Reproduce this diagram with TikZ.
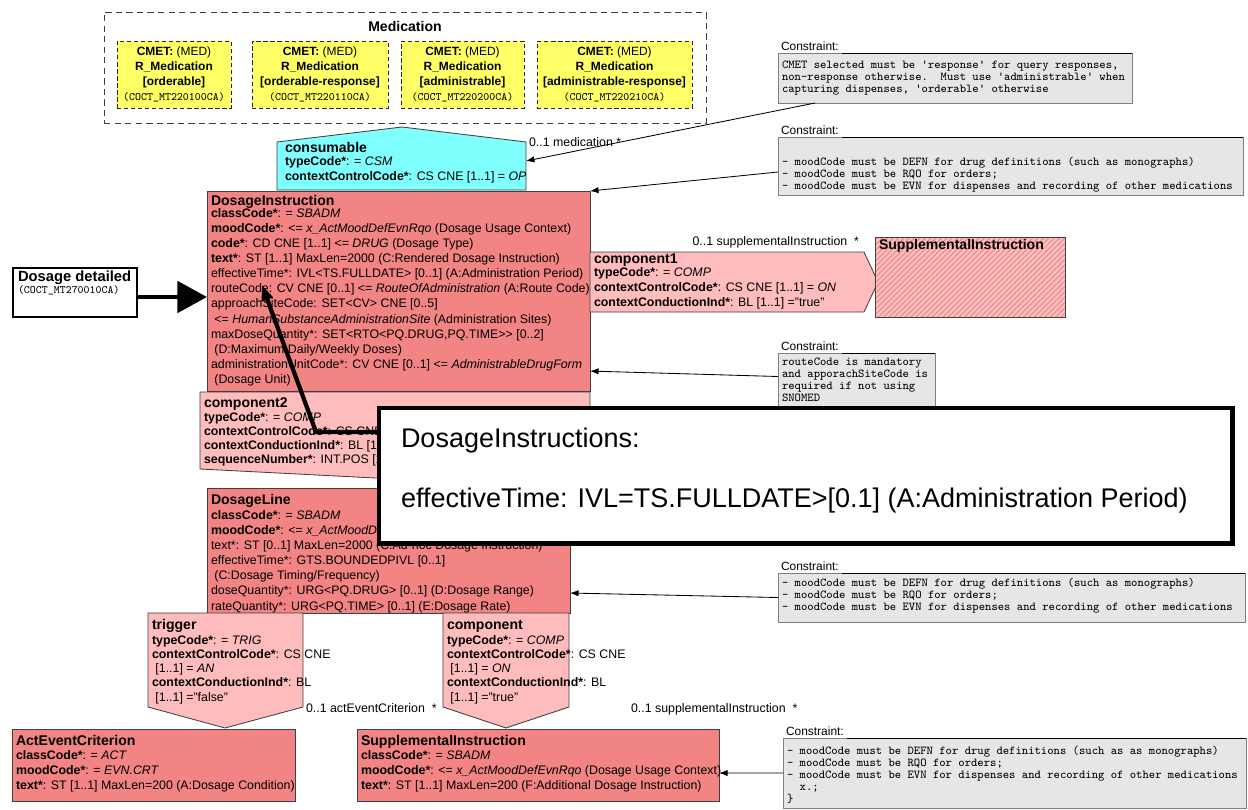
\documentclass[tikz,border=0pt]{standalone}
\usepackage{fontspec}
\setmainfont{Liberation Sans}
\usetikzlibrary{arrows.meta,patterns.meta,calc}

\definecolor{medyellow}{HTML}{FFFF66}
\definecolor{conscyan}{HTML}{80FFFF}
\definecolor{actred}{HTML}{F28484}
\definecolor{actpink}{HTML}{FFBCBC}
\definecolor{congray}{HTML}{E6E6E6}
\definecolor{hatchred}{HTML}{E07A7A}

\newcommand{\umlbody}{\fontsize{8.8}{10.67}\selectfont}
\newcommand{\umlbodytight}{\fontsize{8.8}{9.96}\selectfont}
\newcommand{\umltitle}{\fontsize{10}{12}\selectfont\bfseries}
\newcommand{\cmetfont}{\fontsize{8.5}{10.67}\selectfont}
\newcommand{\cmetcode}{\ttfamily\fontsize{8}{10}\selectfont}
\newcommand{\conmono}{\ttfamily\fontsize{8.6}{8.54}\selectfont}
\newcommand{\conlabel}{\fontsize{8.5}{10}\selectfont}
\newcommand{\callfont}{\fontsize{19.2}{23}\selectfont}

\begin{document}
\begin{tikzpicture}[x=0.025cm,y=-0.025cm,line join=miter,
    every node/.style={inner sep=0pt,outer sep=0pt},
    classbox/.style={draw=black!75,fill=actred,line width=0.6pt},
    assoc/.style={draw=black!75,fill=actpink,line width=0.6pt},
    cmetbox/.style={draw=black!85,fill=medyellow,dash pattern=on 3pt off 2pt,line width=0.6pt},
    conbox/.style={draw=black!50,fill=congray,line width=0.6pt},
    ctitle/.style={anchor=base west,font=\umltitle},
    cbody/.style={anchor=north west,align=left,font=\umlbody},
    ctight/.style={anchor=north west,align=left,font=\umlbodytight},
    context/.style={anchor=north west,align=left,font=\conmono},
    conlbl/.style={anchor=base west,font=\conlabel},
    rolelbl/.style={font=\umlbody},
    link/.style={line width=0.6pt,-{Latex[length=6pt,width=4.5pt]}}]
        \fill[white] (0,0) rectangle (1248,809);
        \useasboundingbox (0,0) rectangle (1248,809);

        % Medication CMET choice
        \node[draw=black!75,dash pattern=on 4.5pt off 3pt,line width=0.6pt,minimum width=15.05cm,minimum height=2.775cm,anchor=north west] (medgroup) at (104,12) {};
        \node[font=\umltitle,anchor=base] (medtitle) at (405,31) {Medication};
        \node[cmetbox,minimum width=2.85cm,minimum height=1.675cm] (cmet1) at (174,74.5) {};
        \node[cmetbox,minimum width=3.4cm,minimum height=1.675cm] (cmet2) at (320,74.5) {};
        \node[cmetbox,minimum width=3.075cm,minimum height=1.675cm] (cmet3) at (462.5,74.5) {};
        \node[cmetbox,minimum width=3.875cm,minimum height=1.675cm] (cmet4) at (614.5,74.5) {};
        \node[align=center,font=\cmetfont] (cmet1-txt) at (cmet1) {\textbf{CMET:} (MED)\\\textbf{R\_Medication}\\\textbf{[orderable]}\\{\cmetcode (COCT\_MT220100CA)}};
        \node[align=center,font=\cmetfont] (cmet2-txt) at (cmet2) {\textbf{CMET:} (MED)\\\textbf{R\_Medication}\\\textbf{[orderable-response]}\\{\cmetcode (COCT\_MT220110CA)}};
        \node[align=center,font=\cmetfont] (cmet3-txt) at (cmet3) {\textbf{CMET:} (MED)\\\textbf{R\_Medication}\\\textbf{[administrable]}\\{\cmetcode (COCT\_MT220200CA)}};
        \node[align=center,font=\cmetfont] (cmet4-txt) at (cmet4) {\textbf{CMET:} (MED)\\\textbf{R\_Medication}\\\textbf{[administrable-response]}\\{\cmetcode (COCT\_MT220210CA)}};

        % consumable participation
        \coordinate (cons-sw) at (277,190);
        \coordinate (cons-nw) at (277,142);
        \coordinate (cons-top) at (402,127);
        \coordinate (cons-ne) at (526,142);
        \coordinate (cons-se) at (526,190);
        \coordinate (cons-in) at (526,161);
        \draw[fill=conscyan,draw=black!75,line width=0.6pt] (cons-sw) -- (cons-nw) -- (cons-top) -- (cons-ne) -- (cons-se) -- cycle;
        \node[ctitle] (cons-title) at (285,152) {consumable};
        \node[cbody] (cons-body) at (285,157) {\textbf{typeCode*}: = \textit{CSM}\\\textbf{contextControlCode*}: CS CNE [1..1] = \textit{OP}};
        \node[rolelbl,anchor=base west] (cons-role) at (529,146) {0..1 medication *};

        % DosageInstruction
        \node[classbox,minimum width=9.575cm,minimum height=5cm,anchor=north west] (dosinstr) at (207,191) {};
        \node[ctitle] (dosinstr-title) at (211,205) {DosageInstruction};
        \node[cbody] (dosinstr-body) at (211,209) {\textbf{classCode*}: = \textit{SBADM}\\
            \textbf{moodCode*}: <= \textit{x\_ActMoodDefEvnRqo} (Dosage Usage Context)\\
            \textbf{code*}: CD CNE [1..1] <= \textit{DRUG} (Dosage Type)\\
            \textbf{text*}: ST [1..1] MaxLen=2000 (C:Rendered Dosage Instruction)\\
            effectiveTime*: IVL<TS.FULLDATE> [0..1] (A:Administration Period)\\
            routeCode: CV CNE [0..1] <= \textit{RouteOfAdministration} (A:Route Code)\\
            approachSiteCode: SET<CV> CNE [0..5]\\
            \ <= \textit{HumanSubstanceAdministrationSite} (Administration Sites)\\
            maxDoseQuantity*: SET<RTO<PQ.DRUG,PQ.TIME>{}> [0..2]\\
            \ (D:Maximum Daily/Weekly Doses)\\
            administrationUnitCode*: CV CNE [0..1] <= \textit{AdministrableDrugForm}\\
            \ (Dosage Unit)};

        % component1 -> SupplementalInstruction
        \coordinate (comp1-nw) at (590,252);
        \coordinate (comp1-ne) at (864,252);
        \coordinate (comp1-tip) at (878,282);
        \coordinate (comp1-se) at (864,312);
        \coordinate (comp1-sw) at (590,312);
        \draw[assoc] (comp1-nw) -- (comp1-ne) -- (comp1-tip) -- (comp1-se) -- (comp1-sw) -- cycle;
        \node[ctitle] (comp1-title) at (594,263) {component1};
        \node[cbody] (comp1-body) at (594,268) {\textbf{typeCode*}: = \textit{COMP}\\
            \textbf{contextControlCode*}: CS CNE [1..1] = \textit{ON}\\
            \textbf{contextConductionInd*}: BL [1..1] ="true"};
        \node[rolelbl,anchor=base east] (comp1-role) at (859,245) {0..1 supplementalInstruction \ *};
        \node[draw=black!75,line width=0.6pt,preaction={fill=actpink},pattern={Lines[angle=45,distance=2.7pt,line width=0.5pt]},pattern color=hatchred,minimum width=4.75cm,minimum height=2cm,anchor=north west] (suppl1) at (875,237) {};
        \node[ctitle] (suppl1-title) at (879,249) {SupplementalInstruction};

        % entry point
        \node[draw=black,line width=2pt,fill=white,minimum width=3.1cm,minimum height=1.225cm,anchor=north west] (dosdet) at (13,268) {};
        \node[font=\fontsize{10.5}{12}\selectfont\bfseries,anchor=base west] (dosdet-title) at (18,281) {Dosage detailed};
        \node[font=\cmetcode,anchor=base west] (dosdet-code) at (18,293) {(COCT\_MT270010CA)};
        \coordinate (dosdet-out) at (137,297);
        \coordinate (dosinstr-in) at (207,297);
        \draw[line width=3.5pt,-{Triangle[length=21pt,width=22pt]}] (dosdet-out) -- (dosinstr-in);

        % constraints
        \node[conbox,minimum width=8.85cm,minimum height=1.25cm,anchor=north west] (con1) at (778,53) {};
        \node[conlbl] (con1-lbl) at (781,50) {Constraint:};
        \draw[line width=0.6pt] (con1-lbl.east |- con1.north) ++(3,0) -- (con1.north east);
        \node[context] (con1-txt) at (782,60.5) {CMET selected must be \textquotesingle response\textquotesingle{} for query responses,\\
            non-response otherwise.\ \ Must use \textquotesingle administrable\textquotesingle{} when\\
            capturing dispenses, \textquotesingle orderable\textquotesingle{} otherwise};

        \node[conbox,minimum width=11.625cm,minimum height=1.45cm,anchor=north west] (con2) at (778,137) {};
        \node[conlbl] (con2-lbl) at (781,134) {Constraint:};
        \draw[line width=0.6pt] (con2-lbl.east |- con2.north) ++(3,0) -- (con2.north east);
        \node[context] (con2-txt) at (782,157.5) {- moodCode must be DEFN for drug definitions (such as monographs)\\
            - moodCode must be RQO for orders;\\
            - moodCode must be EVN for dispenses and recording of other medications};

        \node[conbox,minimum width=3.925cm,minimum height=1.525cm,anchor=north west] (con3) at (778,353) {};
        \node[conlbl] (con3-lbl) at (781,350) {Constraint:};
        \draw[line width=0.6pt] (con3-lbl.east |- con3.north) ++(3,0) -- (con3.north east);
        \node[context] (con3-txt) at (782,357.5) {routeCode is mandatory\\and apporachSiteCode is\\required if not using\\SNOMED};

        \node[conbox,minimum width=11.675cm,minimum height=1.225cm,anchor=north west] (con4) at (778,573) {};
        \node[conlbl] (con4-lbl) at (781,570) {Constraint:};
        \draw[line width=0.6pt] (con4-lbl.east |- con4.north) ++(3,0) -- (con4.north east);
        \node[context] (con4-txt) at (782,578.5) {- moodCode must be DEFN for drug definitions (such as monographs)\\
            - moodCode must be RQO for orders;\\
            - moodCode must be EVN for dispenses and recording of other medications};

        \node[conbox,minimum width=11.575cm,minimum height=1.75cm,anchor=north west] (con5) at (783,738) {};
        \node[conlbl] (con5-lbl) at (786,735) {Constraint:};
        \draw[line width=0.6pt] (con5-lbl.east |- con5.north) ++(3,0) -- (con5.north east);
        \node[context] (con5-txt) at (787,746.5) {- moodCode must be DEFN for drug definitions (such as as monographs)\\
            - moodCode must be RQO for orders;\\
            - moodCode must be EVN for dispenses and recording of other medications\\
            \ \ x.;\\
            \}};

        % component2 -> DosageLine (partly hidden by the callout)
        \coordinate (comp2-nw) at (200,392);
        \coordinate (comp2-ne) at (590,392);
        \coordinate (comp2-se) at (590,469);
        \coordinate (comp2-tip) at (395,479);
        \coordinate (comp2-sw) at (200,469);
        \draw[assoc] (comp2-nw) -- (comp2-ne) -- (comp2-se) -- (comp2-tip) -- (comp2-sw) -- cycle;
        \node[ctitle] (comp2-title) at (204,407) {component2};
        \begin{scope}
            \clip (200,392) rectangle (378,480);
            \node[ctight] (comp2-body) at (204,413) {\textbf{typeCode*}: = \textit{COMP}\\
                \textbf{contextControlCode*}: CS CNE\\
                \textbf{contextConductionInd*}: BL [1.\\
                \textbf{sequenceNumber*}: INT.POS [1};
        \end{scope}

        % DosageLine
        \node[classbox,minimum width=9.075cm,minimum height=3.125cm,anchor=north west] (dosline) at (207,488) {};
        \node[ctitle] (dosline-title) at (211,504) {DosageLine};
        \node[cbody] (dosline-body) at (211,511) {\textbf{classCode*}: = \textit{SBADM}\\
            \textbf{moodCode*}: <= \textit{x\_ActMoodDefEvnRqo} (Dosage Usage Context)\\
            text*: ST [0..1] MaxLen=2000 (C:Ad-hoc Dosage Instruction)\\
            effectiveTime*: GTS.BOUNDEDPIVL [0..1]\\
            \ (C:Dosage Timing/Frequency)\\
            doseQuantity*: URG<PQ.DRUG> [0..1] (D:Dosage Range)\\
            rateQuantity*: URG<PQ.TIME> [0..1] (E:Dosage Rate)};

        % trigger -> ActEventCriterion
        \coordinate (trig-nw) at (148,613);
        \coordinate (trig-ne) at (303,613);
        \coordinate (trig-se) at (303,707);
        \coordinate (trig-tip) at (225,728);
        \coordinate (trig-sw) at (148,707);
        \draw[assoc] (trig-nw) -- (trig-ne) -- (trig-se) -- (trig-tip) -- (trig-sw) -- cycle;
        \node[ctitle] (trig-title) at (152,629) {trigger};
        \node[ctight] (trig-body) at (152,636) {\textbf{typeCode*}: = \textit{TRIG}\\
            \textbf{contextControlCode*}: CS CNE\\
            \ [1..1] = \textit{AN}\\
            \textbf{contextConductionInd*}: BL\\
            \ [1..1] ="false"};
        \node[rolelbl,anchor=base west] (trig-role) at (306,712) {0..1 actEventCriterion \ *};

        % component -> SupplementalInstruction
        \coordinate (comp-nw) at (443,613);
        \coordinate (comp-ne) at (569,613);
        \coordinate (comp-se) at (569,707);
        \coordinate (comp-tip) at (506,728);
        \coordinate (comp-sw) at (443,707);
        \draw[assoc] (comp-nw) -- (comp-ne) -- (comp-se) -- (comp-tip) -- (comp-sw) -- cycle;
        \node[ctitle] (comp-title) at (447,629) {component};
        \node[ctight] (comp-body) at (447,636) {\textbf{typeCode*}: = \textit{COMP}\\
            \textbf{contextControlCode*}: CS CNE\\
            \ [1..1] = \textit{ON}\\
            \textbf{contextConductionInd*}: BL\\
            \ [1..1] ="true"};
        \node[rolelbl,anchor=base west] (comp-role) at (631,712) {0..1 supplementalInstruction \ *};

        % ActEventCriterion
        \node[classbox,minimum width=7.075cm,minimum height=1.8cm,anchor=north west] (actevt) at (12,729) {};
        \node[ctitle] (actevt-title) at (16,745) {ActEventCriterion};
        \node[cbody] (actevt-body) at (16,751) {\textbf{classCode*}: = \textit{ACT}\\
            \textbf{moodCode*}: = \textit{EVN.CRT}\\
            \textbf{text*}: ST [1..1] MaxLen=200 (A:Dosage Condition)};

        % SupplementalInstruction
        \node[classbox,minimum width=9.05cm,minimum height=1.8cm,anchor=north west] (suppl2) at (357,729) {};
        \node[ctitle] (suppl2-title) at (361,745) {SupplementalInstruction};
        \node[cbody] (suppl2-body) at (361,751) {\textbf{classCode*}: = \textit{SBADM}\\
            \textbf{moodCode*}: <= \textit{x\_ActMoodDefEvnRqo} (Dosage Usage Context)\\
            \textbf{text*}: ST [1..1] MaxLen=200 (F:Additional Dosage Instruction)};

        % constraint links
        \draw[link] ($(con1.south west)+(37,0)$) -- (cons-in);
        \draw[link] ($(con2.west)+(0,6)$) -- (dosinstr.north east);
        \draw[link] ($(con3.west)+(0,-7)$) -- ($(dosinstr.south east)+(0,-20)$);
        \draw[link] (con4.west) -- ($(dosline.south east)+(0,-20)$);
        \draw[link] (con5.west) -- ($(suppl2.east)+(0,8)$);

        % callout
        \node[draw=black,line width=3.5pt,fill=white,minimum width=21.325cm,minimum height=3.375cm,anchor=north west] (callout) at (379,408) {};
        \node[font=\callfont,anchor=base west] (callout-head) at (401,447) {DosageInstructions:};
        \node[font=\callfont,anchor=base west] (callout-line) at (401,507) {effectiveTime: IVL=TS.FULLDATE>[0.1] (A:Administration Period)};
        \coordinate (call-in) at (380,432);
        \coordinate (call-bend) at (316,432);
        \coordinate (efftime) at (262,285);
        \draw[line width=3pt,-{Triangle[length=11pt,width=8pt]}] (call-in) -- (call-bend) -- (efftime);
\end{tikzpicture}
\end{document}
